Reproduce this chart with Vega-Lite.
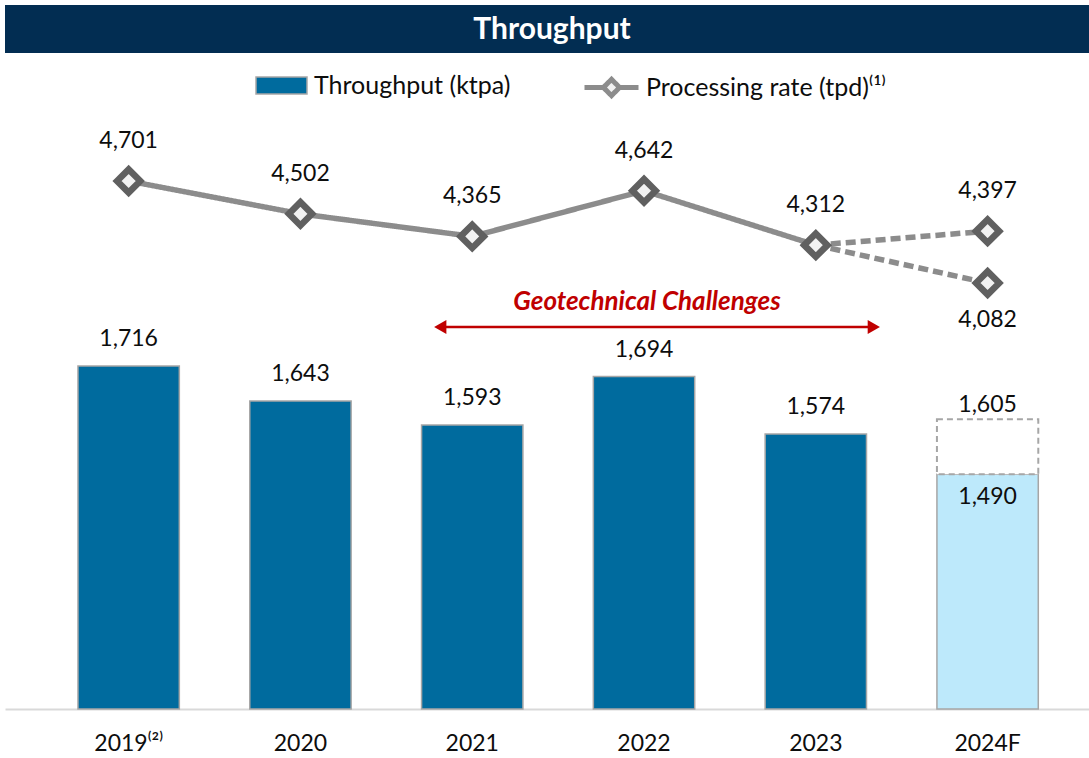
{
  "$schema": "https://vega.github.io/schema/vega-lite/v6.json",
  "padding": {"left": 5, "top": 5, "right": 0, "bottom": 0},
  "background": "white",
  "spacing": 0,
  "config": {"view": {"stroke": null}, "font": "Lato", "text": {"font": "Lato"}},
  "datasets": {
    "bars": [
      {"year": "2019", "ktpa": 1716, "kind": "actual"},
      {"year": "2020", "ktpa": 1643, "kind": "actual"},
      {"year": "2021", "ktpa": 1593, "kind": "actual"},
      {"year": "2022", "ktpa": 1694, "kind": "actual"},
      {"year": "2023", "ktpa": 1574, "kind": "actual"},
      {"year": "2024F", "ktpa": 1490, "kind": "forecast low"},
      {"year": "2024F", "ktpa": 1605, "base": 1490, "kind": "forecast high"}
    ],
    "rate": [
      {"year": "2019", "tpd": 4701, "seg": "actual"},
      {"year": "2020", "tpd": 4502, "seg": "actual"},
      {"year": "2021", "tpd": 4365, "seg": "actual"},
      {"year": "2022", "tpd": 4642, "seg": "actual"},
      {"year": "2023", "tpd": 4312, "seg": "actual"},
      {"year": "2023", "tpd": 4312, "seg": "high"},
      {"year": "2024F", "tpd": 4397, "seg": "high"},
      {"year": "2023", "tpd": 4312, "seg": "low"},
      {"year": "2024F", "tpd": 4082, "seg": "low"}
    ]
  },
  "vconcat": [
    {
      "width": 1084,
      "height": 48,
      "view": {"fill": "#022D52", "stroke": null},
      "data": {"values": [{"t": "Throughput"}]},
      "mark": {"type": "text", "color": "white", "fontSize": 30, "fontWeight": "bold", "baseline": "middle", "align": "center", "dx": 5, "dy": 1},
      "encoding": {"text": {"field": "t"}}
    },
    {
      "width": 1084,
      "height": 656,
      "resolve": {"scale": {"y": "independent"}},
      "layer": [
        {
          "data": {"name": "bars"},
          "layer": [
            {
              "transform": [{"filter": "datum.kind == 'actual'"}],
              "mark": {"type": "bar", "stroke": "#A6A6A6", "strokeWidth": 1.5},
              "encoding": {
                "x": {
                  "field": "year", "type": "nominal",
                  "scale": {"domain": ["2019", "2020", "2021", "2022", "2023", "2024F"], "paddingInner": 0.41, "paddingOuter": 0.36, "align": 0.59},
                  "axis": {"title": null, "ticks": false, "labelAngle": 0, "labelFontSize": 23, "labelFont": "Lato", "labelColor": "#0D0D0D", "domainColor": "#D9D9D9", "domainWidth": 2, "labelPadding": 23, "grid": false,
                    "labelExpr": "datum.value == '2019' ? '2019⁽²⁾' : datum.value"}
                },
                "y": {"field": "ktpa", "type": "quantitative", "scale": {"domain": [1000, 2369.5], "nice": false, "zero": false}, "axis": null},
                "y2": {"datum": 1000},
                "color": {
                  "datum": "Throughput (ktpa)",
                  "scale": {"range": ["#006B9E"]},
                  "legend": {
                    "title": null, "orient": "none", "legendX": 250, "legendY": 54, "padding": 0,
                    "symbolType": "M-1,-0.33H1V0.33H-1Z", "symbolSize": 2601,
                    "labelFontSize": 25, "labelFont": "Lato", "labelColor": "#0D0D0D", "labelOffset": 6, "labelLimit": 500,
                    "symbolStrokeColor": "#A6A6A6", "symbolStrokeWidth": 1.5
                  }
                }
              }
            },
            {
              "transform": [{"filter": "datum.kind == 'forecast low'"}],
              "mark": {"type": "bar", "fill": "#BDE9FB", "stroke": "#A6A6A6", "strokeWidth": 1.5},
              "encoding": {
                "x": {"field": "year", "type": "nominal"},
                "y": {"field": "ktpa", "type": "quantitative", "scale": {"domain": [1000, 2369.5], "nice": false, "zero": false}, "axis": null},
                "y2": {"datum": 1000}
              }
            },
            {
              "transform": [{"filter": "datum.kind == 'forecast high'"}],
              "mark": {"type": "bar", "fill": "white", "stroke": "#A6A6A6", "strokeWidth": 2, "strokeDash": [6, 4]},
              "encoding": {
                "x": {"field": "year", "type": "nominal"},
                "y": {"field": "ktpa", "type": "quantitative", "scale": {"domain": [1000, 2369.5], "nice": false, "zero": false}, "axis": null},
                "y2": {"field": "base"}
              }
            },
            {
              "transform": [{"filter": "datum.kind == 'actual'"}],
              "mark": {"type": "text", "fontSize": 23, "color": "#0D0D0D", "baseline": "middle", "dy": -27},
              "encoding": {
                "x": {"field": "year", "type": "nominal"},
                "y": {"field": "ktpa", "type": "quantitative", "scale": {"domain": [1000, 2369.5], "nice": false, "zero": false}, "axis": null},
                "text": {"field": "ktpa", "type": "quantitative", "format": ",d"}
              }
            },
            {
              "transform": [{"filter": "datum.kind == 'forecast high'"}],
              "mark": {"type": "text", "fontSize": 23, "color": "#0D0D0D", "baseline": "middle", "dy": -14},
              "encoding": {
                "x": {"field": "year", "type": "nominal"},
                "y": {"field": "ktpa", "type": "quantitative", "scale": {"domain": [1000, 2369.5], "nice": false, "zero": false}, "axis": null},
                "text": {"field": "ktpa", "type": "quantitative", "format": ",d"}
              }
            },
            {
              "transform": [{"filter": "datum.kind == 'forecast low'"}],
              "mark": {"type": "text", "fontSize": 23, "color": "#0D0D0D", "baseline": "middle", "dy": 23},
              "encoding": {
                "x": {"field": "year", "type": "nominal"},
                "y": {"field": "ktpa", "type": "quantitative", "scale": {"domain": [1000, 2369.5], "nice": false, "zero": false}, "axis": null},
                "text": {"field": "ktpa", "type": "quantitative", "format": ",d"}
              }
            },
            {
              "data": {"values": [{"note": "Geotechnical Challenges"}]},
              "mark": {"type": "rule", "color": "#C00000", "strokeWidth": 2.5, "xOffset": -32, "x2Offset": 58},
              "encoding": {
                "x": {"datum": "2021"},
                "x2": {"datum": "2023"},
                "y": {"datum": 1797.5, "type": "quantitative", "scale": {"domain": [1000, 2369.5], "nice": false, "zero": false}, "axis": null}
              }
            },
            {
              "data": {"values": [{"note": "Geotechnical Challenges"}]},
              "mark": {"type": "point", "shape": "triangle-left", "filled": true, "color": "#C00000", "opacity": 1, "size": 200, "xOffset": -32},
              "encoding": {
                "x": {"datum": "2021"},
                "y": {"datum": 1797.5, "type": "quantitative", "scale": {"domain": [1000, 2369.5], "nice": false, "zero": false}, "axis": null}
              }
            },
            {
              "data": {"values": [{"note": "Geotechnical Challenges"}]},
              "mark": {"type": "point", "shape": "triangle-right", "filled": true, "color": "#C00000", "opacity": 1, "size": 200, "xOffset": 58},
              "encoding": {
                "x": {"datum": "2023"},
                "y": {"datum": 1797.5, "type": "quantitative", "scale": {"domain": [1000, 2369.5], "nice": false, "zero": false}, "axis": null}
              }
            },
            {
              "data": {"values": [{"note": "Geotechnical Challenges"}]},
              "mark": {"type": "text", "color": "#C00000", "fontSize": 26, "fontWeight": "bold", "fontStyle": "italic", "baseline": "middle", "xOffset": 3},
              "encoding": {
                "x": {"datum": "2022"},
                "y": {"datum": 1850, "type": "quantitative", "scale": {"domain": [1000, 2369.5], "nice": false, "zero": false}, "axis": null},
                "text": {"field": "note"}
              }
            }
          ]
        },
        {
          "data": {"name": "rate"},
          "layer": [
            {
              "mark": {"type": "line", "strokeWidth": 5.5},
              "encoding": {
                "x": {"field": "year", "type": "nominal"},
                "y": {"field": "tpd", "type": "quantitative", "scale": {"domain": [1497, 5478], "nice": false, "zero": false}, "axis": null},
                "detail": {"field": "seg"},
                "strokeDash": {"field": "seg", "type": "nominal", "scale": {"domain": ["actual", "high", "low"], "range": [[1, 0], [10, 5], [10, 5]]}, "legend": null},
                "stroke": {
                  "datum": "Processing rate (tpd)⁽¹⁾",
                  "scale": {"range": ["#8C8C8C"]},
                  "legend": {
                    "title": null, "orient": "none", "legendX": 577, "legendY": 53, "padding": 0,
                    "symbolType": "M-1,0H-0.3M0.3,0H1M0,-0.3L0.3,0L0,0.3L-0.3,0Z", "symbolSize": 2916,
                    "symbolStrokeWidth": 5, "symbolFillColor": "#F2F2F2", "symbolStrokeColor": "#767676",
                    "labelFontSize": 25, "labelFont": "Lato", "labelColor": "#0D0D0D", "labelOffset": 5, "labelLimit": 500,
                    "encode": {"symbols": {"update": {"fill": {"value": "#F2F2F2"}, "stroke": {"value": "#767676"}, "strokeWidth": {"value": 5}, "strokeDash": {"value": [1, 0]}}}}
                  }
                }
              }
            },
            {
              "transform": [{"filter": "datum.seg == 'actual' || datum.year == '2024F'"}],
              "mark": {"type": "point", "shape": "diamond", "filled": false, "size": 540, "fill": "#F2F2F2", "stroke": "#606060", "strokeWidth": 6.5, "opacity": 1, "fillOpacity": 1},
              "encoding": {
                "x": {"field": "year", "type": "nominal"},
                "y": {"field": "tpd", "type": "quantitative", "scale": {"domain": [1497, 5478], "nice": false, "zero": false}, "axis": null}
              }
            },
            {
              "transform": [{"filter": "datum.seg == 'actual' || (datum.year == '2024F' && datum.seg == 'high')"}],
              "mark": {"type": "text", "fontSize": 23, "color": "#0D0D0D", "baseline": "middle", "dy": -40},
              "encoding": {
                "x": {"field": "year", "type": "nominal"},
                "y": {"field": "tpd", "type": "quantitative", "scale": {"domain": [1497, 5478], "nice": false, "zero": false}, "axis": null},
                "text": {"field": "tpd", "type": "quantitative", "format": ",d"}
              }
            },
            {
              "transform": [{"filter": "datum.year == '2024F' && datum.seg == 'low'"}],
              "mark": {"type": "text", "fontSize": 23, "color": "#0D0D0D", "baseline": "middle", "dy": 37},
              "encoding": {
                "x": {"field": "year", "type": "nominal"},
                "y": {"field": "tpd", "type": "quantitative", "scale": {"domain": [1497, 5478], "nice": false, "zero": false}, "axis": null},
                "text": {"field": "tpd", "type": "quantitative", "format": ",d"}
              }
            }
          ]
        }
      ]
    }
  ]
}
